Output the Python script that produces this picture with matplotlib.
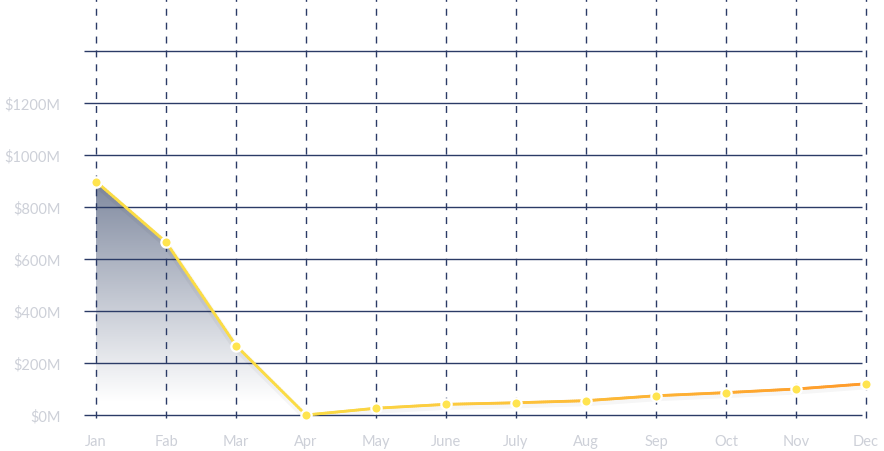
import matplotlib
matplotlib.use("Agg")
import matplotlib.pyplot as plt
import numpy as np
from matplotlib.collections import LineCollection
from matplotlib.colors import LinearSegmentedColormap, to_rgb

months = ["Jan", "Fab", "Mar", "Apr", "May", "June", "July", "Aug", "Sep", "Oct", "Nov", "Dec"]
values = [898, 665, 267, 0, 26, 41, 47, 55, 74, 86, 100, 120]   # $M
y_ticks = [0, 200, 400, 600, 800, 1000, 1200]
y_grid = [0, 200, 400, 600, 800, 1000, 1200, 1400]
fill_months = 4   # shaded area under Jan..Apr

grid_col = "#2b3b66"
label_col = "#cdd0d8"

plt.rcParams["font.family"] = ["Lato", "DejaVu Sans"]

fig = plt.figure(figsize=(8.84, 4.52), dpi=100)
ax = fig.add_axes([84 / 884, 36 / 452, 800 / 884, 416 / 452])
ax.set_xlim(-12 / 70, 11 + 18 / 70)
ax.set_ylim(0, 1600)

x = np.arange(len(months))
y = np.array(values, dtype=float)

# gradient area under the first months (drawn below the grid)
xf, yf = x[:fill_months], y[:fill_months]
poly = ax.fill_between(xf, 0, yf, color="none", lw=0)
cmap = LinearSegmentedColormap.from_list("g", [(0, "#ffffff"), (0.06, "#ffffff"), (1, "#7f899f")])
grad = np.linspace(0, 1, 256).reshape(-1, 1)
im = ax.imshow(grad, cmap=cmap, aspect="auto", origin="lower",
               extent=(xf[0], xf[-1], 0, yf.max()), zorder=0.5)
im.set_clip_path(poly.get_paths()[0], transform=ax.transData)

# grid
for gy in y_grid:
    ax.hlines(gy, -12 / 70, 11 - 4 / 70, color=grid_col, lw=1.0, zorder=1, clip_on=False)
for gx in x:
    ax.vlines(gx, -10, 1600, color=grid_col, lw=1.0, linestyles=(0, (5, 5)),
              zorder=1, clip_on=False)

# soft shadow under line
ax.plot(x, y - 8, color="#000000", alpha=0.035, lw=5, zorder=3, solid_capstyle="round")

# line with yellow -> orange gradient
xs = np.linspace(0, 11, 400)
ys = np.interp(xs, x, y)
pts = np.array([xs, ys]).T.reshape(-1, 1, 2)
segs = np.concatenate([pts[:-1], pts[1:]], axis=1)
c1 = np.array(to_rgb("#fbdc45"))
c2 = np.array(to_rgb("#ff9a2a"))
t = np.clip((xs[:-1] - 3) / 8, 0, 1)[:, None]
cols = c1 * (1 - t) + c2 * t
lc = LineCollection(segs, colors=cols, lw=2.0, zorder=4, capstyle="round")
lc.set_clip_on(False)
ax.add_collection(lc)

ax.scatter(x, y, s=55, color="#ffe44f", edgecolor="white", linewidth=1.6,
           zorder=5, clip_on=False)

# ticks and labels
ax.set_yticks(y_ticks)
ax.set_yticklabels([f"${v}M" for v in y_ticks])
ax.set_xticks(x)
ax.set_xticklabels(months)
ax.tick_params(axis="y", length=0, pad=17, labelsize=10.5, labelcolor=label_col)
ax.tick_params(axis="x", length=0, pad=14, labelsize=10.5, labelcolor=label_col)
for s in ax.spines.values():
    s.set_visible(False)
ax.set_facecolor("white")

fig.savefig("out.png", dpi=100, facecolor="white")
